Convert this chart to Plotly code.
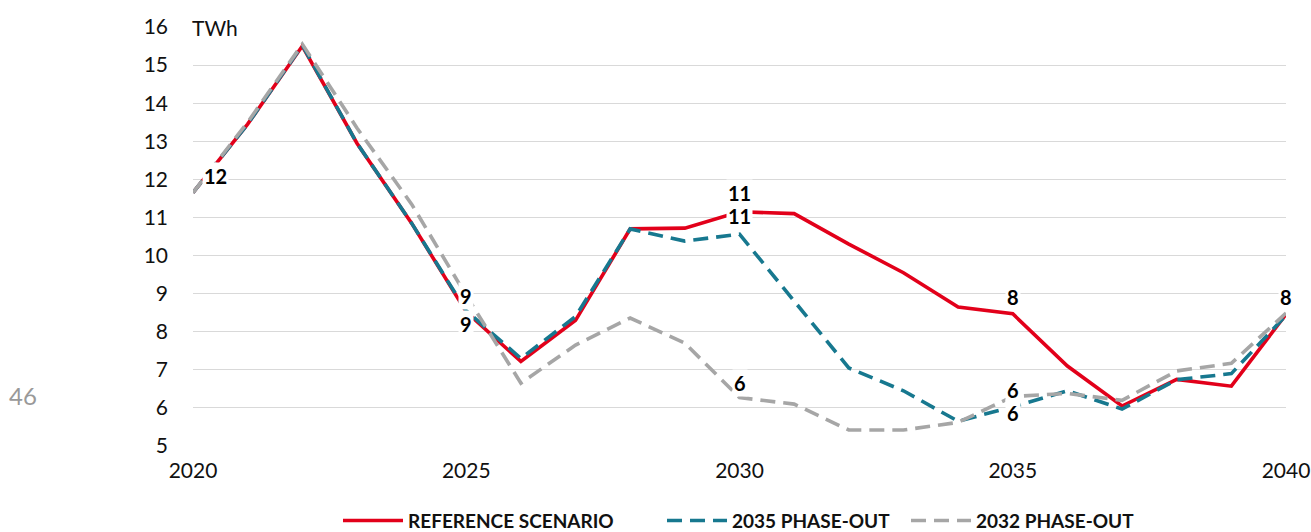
import plotly.graph_objects as go

years = list(range(2020, 2041))

reference = [11.65, 13.45, 15.5, 12.95, 10.85, 8.52, 7.22, 8.3, 10.7, 10.72, 11.15,
             11.1, 10.3, 9.55, 8.65, 8.47, 7.1, 6.05, 6.75, 6.57, 8.46]
phaseout_2035 = [11.65, 13.45, 15.52, 12.95, 10.85, 8.55, 7.3, 8.4, 10.7, 10.38, 10.56,
                 8.8, 7.05, 6.45, 5.65, 6.03, 6.45, 5.97, 6.74, 6.9, 8.43]
phaseout_2032 = [11.65, 13.5, 15.55, 13.35, 11.35, 8.95, 6.65, 7.65, 8.36, 7.7, 6.27,
                 6.1, 5.42, 5.42, 5.62, 6.3, 6.38, 6.2, 6.97, 7.17, 8.49]

series_names = ["REFERENCE SCENARIO", "2035 PHASE-OUT", "2032 PHASE-OUT"]
y_ticks = list(range(5, 17))
x_ticks = [2020, 2025, 2030, 2035, 2040]
unit_label = "TWh"
page_number = "46"

RED = "#E2001A"
TEAL = "#17788F"
GREY = "#A6A6A6"

series = {
    "ref": (reference, series_names[0], RED, "solid", "legend"),
    "p35": (phaseout_2035, series_names[1], TEAL, "15px,8px", "legend2"),
    "p32": (phaseout_2032, series_names[2], GREY, "15px,8px", "legend3"),
}

fig = go.Figure()
for key in ["ref", "p35", "p32"]:
    vals, name, color, dash, leg = series[key]
    fig.add_trace(go.Scatter(
        x=years, y=vals, mode="lines", name=name,
        line=dict(color=color, width=3.6, dash=dash),
        legend=leg, showlegend=True, hoverinfo="skip",
    ))

# value labels: (series, year, xshift, yshift)
value_labels = [
    ("ref", 2020, 22, 17),
    ("p32", 2025, 0, 0),
    ("ref", 2025, 0, -12),
    ("ref", 2030, 0, 19),
    ("p35", 2030, 0, 18),
    ("p32", 2030, 0, 15),
    ("ref", 2035, 0, 17),
    ("p32", 2035, 0, 6),
    ("p35", 2035, 0, -6),
    ("ref", 2040, 0, 17),
]
for key, yr, dx, dy in value_labels:
    vals = series[key][0]
    v = vals[years.index(yr)]
    fig.add_annotation(
        x=yr, y=v, xref="x", yref="y", text=f"<b>{v:.0f}</b>", showarrow=False,
        xshift=dx, yshift=dy, bgcolor="white", borderpad=1,
        font=dict(family="Lato", size=20, color="#000000"),
    )

fig.add_annotation(
    x=0, y=16, xref="paper", yref="y", text=unit_label, showarrow=False,
    xanchor="left", yanchor="middle", xshift=-3,
    font=dict(family="Lato", size=21, color="#111111"),
)
fig.add_annotation(
    x=0, y=0.1205, xref="paper", yref="paper", text=page_number, showarrow=False,
    xanchor="right", yanchor="middle", xshift=-154,
    font=dict(family="Lato", size=24, color="#999999"),
)

legend_style = dict(
    orientation="h", yanchor="middle", y=-0.178, xanchor="left",
    font=dict(family="Lato", size=19, color="#111111", weight="bold"),
    bgcolor="rgba(0,0,0,0)", itemwidth=60,
)
plot_w = 1311 - 193 - 25
fig.update_layout(
    width=1311, height=532, showlegend=True,
    margin=dict(l=193, r=25, t=27, b=86, autoexpand=False),
    paper_bgcolor="white", plot_bgcolor="white",
    legend=dict(x=(338 - 193) / plot_w, **legend_style),
    legend2=dict(x=(662 - 193) / plot_w, **legend_style),
    legend3=dict(x=(906 - 193) / plot_w, **legend_style),
    xaxis=dict(
        range=[2020, 2040], tickvals=x_ticks, showgrid=False, zeroline=False,
        showline=False, ticks="", ticklabelstandoff=10,
        tickfont=dict(family="Lato", size=21, color="#111111"),
    ),
    yaxis=dict(
        range=[5, 16], tickvals=y_ticks, showgrid=True, gridcolor="#D9D9D9",
        gridwidth=1, zeroline=False, showline=False, ticks="",
        ticklabelstandoff=24,
        tickfont=dict(family="Lato", size=21, color="#111111"),
    ),
)

fig.write_html("out.html")
